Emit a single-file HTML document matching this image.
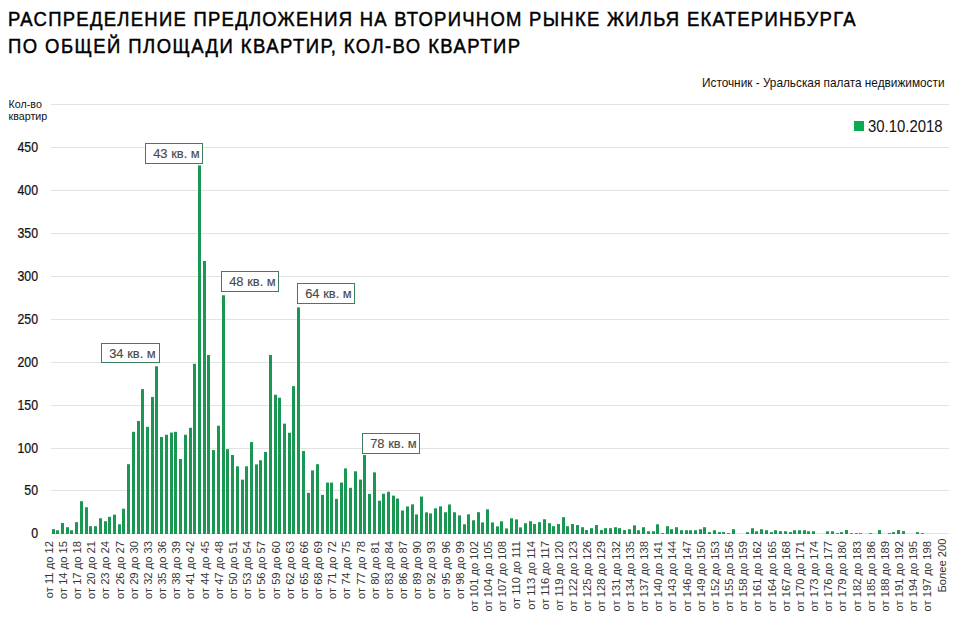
<!DOCTYPE html>
<html><head><meta charset="utf-8"><style>
html,body{margin:0;padding:0;background:#fff;width:955px;height:625px;overflow:hidden}
svg{display:block}
text{font-family:"Liberation Sans",sans-serif}
</style></head><body>
<svg width="955" height="625" viewBox="0 0 955 625">
<rect x="0" y="0" width="955" height="625" fill="#fff"/>

<text transform="translate(8.0 26) scale(0.88 1)" x="0" y="0" font-size="21" fill="#000" textLength="963.07" lengthAdjust="spacing" stroke="#000" stroke-width="0.5">РАСПРЕДЕЛЕНИЕ ПРЕДЛОЖЕНИЯ НА ВТОРИЧНОМ РЫНКЕ ЖИЛЬЯ ЕКАТЕРИНБУРГА</text>
<text transform="translate(8.0 53) scale(0.88 1)" x="0" y="0" font-size="21" fill="#000" textLength="581.82" lengthAdjust="spacing" stroke="#000" stroke-width="0.5">ПО ОБЩЕЙ ПЛОЩАДИ КВАРТИР, КОЛ-ВО КВАРТИР</text>
<text x="702" y="87" font-size="12.8" fill="#111" textLength="242.5" lengthAdjust="spacingAndGlyphs">Источник - Уральская палата недвижимости</text>
<rect x="51" y="104" width="898" height="1" fill="#e3e3e3"/>
<rect x="51" y="147" width="898" height="1" fill="#e3e3e3"/>
<rect x="51" y="190" width="898" height="1" fill="#e3e3e3"/>
<rect x="51" y="233" width="898" height="1" fill="#e3e3e3"/>
<rect x="51" y="276" width="898" height="1" fill="#e3e3e3"/>
<rect x="51" y="319" width="898" height="1" fill="#e3e3e3"/>
<rect x="51" y="362" width="898" height="1" fill="#e3e3e3"/>
<rect x="51" y="405" width="898" height="1" fill="#e3e3e3"/>
<rect x="51" y="448" width="898" height="1" fill="#e3e3e3"/>
<rect x="51" y="490" width="898" height="1" fill="#e3e3e3"/>
<rect x="51" y="533" width="898" height="1" fill="#e3e3e3"/>
<text transform="translate(38 538) scale(0.85 1)" x="0" y="0" font-size="14.5" fill="#111" stroke="#111" stroke-width="0.25" text-anchor="end">0</text>
<text transform="translate(38 495) scale(0.85 1)" x="0" y="0" font-size="14.5" fill="#111" stroke="#111" stroke-width="0.25" text-anchor="end">50</text>
<text transform="translate(38 453) scale(0.85 1)" x="0" y="0" font-size="14.5" fill="#111" stroke="#111" stroke-width="0.25" text-anchor="end">100</text>
<text transform="translate(38 410) scale(0.85 1)" x="0" y="0" font-size="14.5" fill="#111" stroke="#111" stroke-width="0.25" text-anchor="end">150</text>
<text transform="translate(38 367) scale(0.85 1)" x="0" y="0" font-size="14.5" fill="#111" stroke="#111" stroke-width="0.25" text-anchor="end">200</text>
<text transform="translate(38 324) scale(0.85 1)" x="0" y="0" font-size="14.5" fill="#111" stroke="#111" stroke-width="0.25" text-anchor="end">250</text>
<text transform="translate(38 281) scale(0.85 1)" x="0" y="0" font-size="14.5" fill="#111" stroke="#111" stroke-width="0.25" text-anchor="end">300</text>
<text transform="translate(38 238) scale(0.85 1)" x="0" y="0" font-size="14.5" fill="#111" stroke="#111" stroke-width="0.25" text-anchor="end">350</text>
<text transform="translate(38 195) scale(0.85 1)" x="0" y="0" font-size="14.5" fill="#111" stroke="#111" stroke-width="0.25" text-anchor="end">400</text>
<text transform="translate(38 152) scale(0.85 1)" x="0" y="0" font-size="14.5" fill="#111" stroke="#111" stroke-width="0.25" text-anchor="end">450</text>
<text x="8.6" y="108" font-size="10.7" fill="#111">Кол-во</text>
<text x="8.6" y="120" font-size="10.7" fill="#111">квартир</text>
<rect x="854" y="121" width="10" height="10" fill="#0aaa50"/>
<text x="868" y="132" font-size="16" fill="#111" textLength="74.5" lengthAdjust="spacingAndGlyphs">30.10.2018</text>
<rect x="52" y="529.11" width="3" height="4.89" fill="#1a9853"/>
<rect x="56" y="530.31" width="3" height="3.69" fill="#1a9853"/>
<rect x="61" y="523.01" width="3" height="10.99" fill="#1a9853"/>
<rect x="66" y="527.22" width="3" height="6.78" fill="#1a9853"/>
<rect x="70" y="530.31" width="3" height="3.69" fill="#1a9853"/>
<rect x="75" y="522.15" width="3" height="11.85" fill="#1a9853"/>
<rect x="80" y="501.20" width="3" height="32.80" fill="#1a9853"/>
<rect x="85" y="507.29" width="3" height="26.71" fill="#1a9853"/>
<rect x="89" y="526.19" width="3" height="7.81" fill="#1a9853"/>
<rect x="94" y="526.19" width="3" height="7.81" fill="#1a9853"/>
<rect x="99" y="518.29" width="3" height="15.71" fill="#1a9853"/>
<rect x="104" y="521.21" width="3" height="12.79" fill="#1a9853"/>
<rect x="108" y="516.83" width="3" height="17.17" fill="#1a9853"/>
<rect x="113" y="514.68" width="3" height="19.32" fill="#1a9853"/>
<rect x="118" y="524.30" width="3" height="9.70" fill="#1a9853"/>
<rect x="122" y="508.67" width="3" height="25.33" fill="#1a9853"/>
<rect x="127" y="464.19" width="3" height="69.81" fill="#1a9853"/>
<rect x="132" y="431.81" width="3" height="102.19" fill="#1a9853"/>
<rect x="137" y="421.00" width="3" height="113.00" fill="#1a9853"/>
<rect x="141" y="389.14" width="3" height="144.86" fill="#1a9853"/>
<rect x="146" y="426.83" width="3" height="107.17" fill="#1a9853"/>
<rect x="151" y="396.95" width="3" height="137.05" fill="#1a9853"/>
<rect x="155" y="366.30" width="3" height="167.70" fill="#1a9853"/>
<rect x="160" y="436.97" width="3" height="97.03" fill="#1a9853"/>
<rect x="165" y="434.73" width="3" height="99.27" fill="#1a9853"/>
<rect x="170" y="432.59" width="3" height="101.41" fill="#1a9853"/>
<rect x="174" y="431.81" width="3" height="102.19" fill="#1a9853"/>
<rect x="179" y="458.95" width="3" height="75.05" fill="#1a9853"/>
<rect x="184" y="434.73" width="3" height="99.27" fill="#1a9853"/>
<rect x="189" y="427.78" width="3" height="106.22" fill="#1a9853"/>
<rect x="193" y="363.81" width="3" height="170.19" fill="#1a9853"/>
<rect x="198" y="165.36" width="3" height="368.64" fill="#1a9853"/>
<rect x="203" y="261.02" width="3" height="272.98" fill="#1a9853"/>
<rect x="207" y="354.96" width="3" height="179.04" fill="#1a9853"/>
<rect x="212" y="450.11" width="3" height="83.89" fill="#1a9853"/>
<rect x="217" y="425.72" width="3" height="108.28" fill="#1a9853"/>
<rect x="222" y="295.28" width="3" height="238.72" fill="#1a9853"/>
<rect x="226" y="449.16" width="3" height="84.84" fill="#1a9853"/>
<rect x="231" y="455.00" width="3" height="79.00" fill="#1a9853"/>
<rect x="236" y="466.33" width="3" height="67.67" fill="#1a9853"/>
<rect x="241" y="479.64" width="3" height="54.36" fill="#1a9853"/>
<rect x="245" y="466.33" width="3" height="67.67" fill="#1a9853"/>
<rect x="250" y="442.03" width="3" height="91.97" fill="#1a9853"/>
<rect x="255" y="464.36" width="3" height="69.64" fill="#1a9853"/>
<rect x="259" y="460.24" width="3" height="73.76" fill="#1a9853"/>
<rect x="264" y="451.99" width="3" height="82.01" fill="#1a9853"/>
<rect x="269" y="354.96" width="3" height="179.04" fill="#1a9853"/>
<rect x="274" y="394.72" width="3" height="139.28" fill="#1a9853"/>
<rect x="278" y="397.72" width="3" height="136.28" fill="#1a9853"/>
<rect x="283" y="423.66" width="3" height="110.34" fill="#1a9853"/>
<rect x="288" y="432.76" width="3" height="101.24" fill="#1a9853"/>
<rect x="292" y="386.13" width="3" height="147.87" fill="#1a9853"/>
<rect x="297" y="307.39" width="3" height="226.61" fill="#1a9853"/>
<rect x="302" y="451.05" width="3" height="82.95" fill="#1a9853"/>
<rect x="307" y="492.87" width="3" height="41.13" fill="#1a9853"/>
<rect x="311" y="470.37" width="3" height="63.63" fill="#1a9853"/>
<rect x="316" y="464.19" width="3" height="69.81" fill="#1a9853"/>
<rect x="321" y="494.84" width="3" height="39.16" fill="#1a9853"/>
<rect x="326" y="482.56" width="3" height="51.44" fill="#1a9853"/>
<rect x="330" y="482.56" width="3" height="51.44" fill="#1a9853"/>
<rect x="335" y="498.88" width="3" height="35.12" fill="#1a9853"/>
<rect x="340" y="482.56" width="3" height="51.44" fill="#1a9853"/>
<rect x="344" y="468.40" width="3" height="65.60" fill="#1a9853"/>
<rect x="349" y="487.80" width="3" height="46.20" fill="#1a9853"/>
<rect x="354" y="471.31" width="3" height="62.69" fill="#1a9853"/>
<rect x="359" y="479.56" width="3" height="54.44" fill="#1a9853"/>
<rect x="363" y="455.09" width="3" height="78.91" fill="#1a9853"/>
<rect x="368" y="493.90" width="3" height="40.10" fill="#1a9853"/>
<rect x="373" y="472.35" width="3" height="61.65" fill="#1a9853"/>
<rect x="378" y="500.68" width="3" height="33.32" fill="#1a9853"/>
<rect x="382" y="493.73" width="3" height="40.27" fill="#1a9853"/>
<rect x="387" y="491.75" width="3" height="42.25" fill="#1a9853"/>
<rect x="392" y="495.62" width="3" height="38.38" fill="#1a9853"/>
<rect x="396" y="498.54" width="3" height="35.46" fill="#1a9853"/>
<rect x="401" y="510.47" width="3" height="23.53" fill="#1a9853"/>
<rect x="406" y="506.44" width="3" height="27.56" fill="#1a9853"/>
<rect x="411" y="504.37" width="3" height="29.63" fill="#1a9853"/>
<rect x="415" y="514.42" width="3" height="19.58" fill="#1a9853"/>
<rect x="420" y="496.56" width="3" height="37.44" fill="#1a9853"/>
<rect x="425" y="512.36" width="3" height="21.64" fill="#1a9853"/>
<rect x="429" y="513.39" width="3" height="20.61" fill="#1a9853"/>
<rect x="434" y="508.32" width="3" height="25.68" fill="#1a9853"/>
<rect x="439" y="506.35" width="3" height="27.65" fill="#1a9853"/>
<rect x="444" y="512.27" width="3" height="21.73" fill="#1a9853"/>
<rect x="448" y="504.46" width="3" height="29.54" fill="#1a9853"/>
<rect x="453" y="512.27" width="3" height="21.73" fill="#1a9853"/>
<rect x="458" y="515.37" width="3" height="18.63" fill="#1a9853"/>
<rect x="463" y="524.30" width="3" height="9.70" fill="#1a9853"/>
<rect x="467" y="514.34" width="3" height="19.66" fill="#1a9853"/>
<rect x="472" y="520.26" width="3" height="13.74" fill="#1a9853"/>
<rect x="477" y="512.19" width="3" height="21.81" fill="#1a9853"/>
<rect x="481" y="522.41" width="3" height="11.59" fill="#1a9853"/>
<rect x="486" y="509.27" width="3" height="24.73" fill="#1a9853"/>
<rect x="491" y="522.41" width="3" height="11.59" fill="#1a9853"/>
<rect x="496" y="526.36" width="3" height="7.64" fill="#1a9853"/>
<rect x="500" y="521.29" width="3" height="12.71" fill="#1a9853"/>
<rect x="505" y="528.42" width="3" height="5.58" fill="#1a9853"/>
<rect x="510" y="518.29" width="3" height="15.71" fill="#1a9853"/>
<rect x="515" y="519.40" width="3" height="14.60" fill="#1a9853"/>
<rect x="519" y="527.39" width="3" height="6.61" fill="#1a9853"/>
<rect x="524" y="523.18" width="3" height="10.82" fill="#1a9853"/>
<rect x="529" y="521.21" width="3" height="12.79" fill="#1a9853"/>
<rect x="533" y="524.04" width="3" height="9.96" fill="#1a9853"/>
<rect x="538" y="522.15" width="3" height="11.85" fill="#1a9853"/>
<rect x="543" y="519.23" width="3" height="14.77" fill="#1a9853"/>
<rect x="548" y="523.18" width="3" height="10.82" fill="#1a9853"/>
<rect x="552" y="526.19" width="3" height="7.81" fill="#1a9853"/>
<rect x="557" y="524.04" width="3" height="9.96" fill="#1a9853"/>
<rect x="562" y="517.17" width="3" height="16.83" fill="#1a9853"/>
<rect x="566" y="526.19" width="3" height="7.81" fill="#1a9853"/>
<rect x="571" y="524.04" width="3" height="9.96" fill="#1a9853"/>
<rect x="576" y="525.07" width="3" height="8.93" fill="#1a9853"/>
<rect x="581" y="527.22" width="3" height="6.78" fill="#1a9853"/>
<rect x="585" y="530.05" width="3" height="3.95" fill="#1a9853"/>
<rect x="590" y="528.16" width="3" height="5.84" fill="#1a9853"/>
<rect x="595" y="525.07" width="3" height="8.93" fill="#1a9853"/>
<rect x="600" y="530.05" width="3" height="3.95" fill="#1a9853"/>
<rect x="604" y="528.16" width="3" height="5.84" fill="#1a9853"/>
<rect x="609" y="528.16" width="3" height="5.84" fill="#1a9853"/>
<rect x="614" y="527.22" width="3" height="6.78" fill="#1a9853"/>
<rect x="618" y="528.16" width="3" height="5.84" fill="#1a9853"/>
<rect x="623" y="530.05" width="3" height="3.95" fill="#1a9853"/>
<rect x="628" y="529.19" width="3" height="4.81" fill="#1a9853"/>
<rect x="633" y="525.33" width="3" height="8.67" fill="#1a9853"/>
<rect x="637" y="530.22" width="3" height="3.78" fill="#1a9853"/>
<rect x="642" y="527.22" width="3" height="6.78" fill="#1a9853"/>
<rect x="647" y="531.25" width="3" height="2.75" fill="#1a9853"/>
<rect x="652" y="531.25" width="3" height="2.75" fill="#1a9853"/>
<rect x="656" y="524.30" width="3" height="9.70" fill="#1a9853"/>
<rect x="661" y="533.14" width="3" height="0.86" fill="#1a9853"/>
<rect x="666" y="526.19" width="3" height="7.81" fill="#1a9853"/>
<rect x="670" y="529.19" width="3" height="4.81" fill="#1a9853"/>
<rect x="675" y="527.22" width="3" height="6.78" fill="#1a9853"/>
<rect x="680" y="530.22" width="3" height="3.78" fill="#1a9853"/>
<rect x="685" y="530.22" width="3" height="3.78" fill="#1a9853"/>
<rect x="689" y="530.22" width="3" height="3.78" fill="#1a9853"/>
<rect x="694" y="530.22" width="3" height="3.78" fill="#1a9853"/>
<rect x="699" y="529.19" width="3" height="4.81" fill="#1a9853"/>
<rect x="703" y="527.22" width="3" height="6.78" fill="#1a9853"/>
<rect x="708" y="532.11" width="3" height="1.89" fill="#1a9853"/>
<rect x="713" y="530.22" width="3" height="3.78" fill="#1a9853"/>
<rect x="718" y="532.11" width="3" height="1.89" fill="#1a9853"/>
<rect x="722" y="532.11" width="3" height="1.89" fill="#1a9853"/>
<rect x="727" y="533.14" width="3" height="0.86" fill="#1a9853"/>
<rect x="732" y="529.19" width="3" height="4.81" fill="#1a9853"/>
<rect x="746" y="532.11" width="3" height="1.89" fill="#1a9853"/>
<rect x="751" y="528.25" width="3" height="5.75" fill="#1a9853"/>
<rect x="755" y="531.25" width="3" height="2.75" fill="#1a9853"/>
<rect x="760" y="529.19" width="3" height="4.81" fill="#1a9853"/>
<rect x="765" y="530.22" width="3" height="3.78" fill="#1a9853"/>
<rect x="770" y="532.11" width="3" height="1.89" fill="#1a9853"/>
<rect x="774" y="530.22" width="3" height="3.78" fill="#1a9853"/>
<rect x="779" y="531.25" width="3" height="2.75" fill="#1a9853"/>
<rect x="784" y="531.25" width="3" height="2.75" fill="#1a9853"/>
<rect x="789" y="532.11" width="3" height="1.89" fill="#1a9853"/>
<rect x="793" y="530.22" width="3" height="3.78" fill="#1a9853"/>
<rect x="798" y="530.22" width="3" height="3.78" fill="#1a9853"/>
<rect x="803" y="530.22" width="3" height="3.78" fill="#1a9853"/>
<rect x="807" y="531.25" width="3" height="2.75" fill="#1a9853"/>
<rect x="812" y="531.25" width="3" height="2.75" fill="#1a9853"/>
<rect x="826" y="531.25" width="3" height="2.75" fill="#1a9853"/>
<rect x="831" y="531.25" width="3" height="2.75" fill="#1a9853"/>
<rect x="836" y="533.14" width="3" height="0.86" fill="#1a9853"/>
<rect x="840" y="532.11" width="3" height="1.89" fill="#1a9853"/>
<rect x="845" y="530.05" width="3" height="3.95" fill="#1a9853"/>
<rect x="850" y="533.14" width="3" height="0.86" fill="#1a9853"/>
<rect x="855" y="533.14" width="3" height="0.86" fill="#1a9853"/>
<rect x="859" y="533.14" width="3" height="0.86" fill="#1a9853"/>
<rect x="869" y="533.14" width="3" height="0.86" fill="#1a9853"/>
<rect x="878" y="530.05" width="3" height="3.95" fill="#1a9853"/>
<rect x="888" y="533.14" width="3" height="0.86" fill="#1a9853"/>
<rect x="892" y="532.11" width="3" height="1.89" fill="#1a9853"/>
<rect x="897" y="530.05" width="3" height="3.95" fill="#1a9853"/>
<rect x="902" y="531.08" width="3" height="2.92" fill="#1a9853"/>
<rect x="916" y="532.11" width="3" height="1.89" fill="#1a9853"/>
<rect x="921" y="533.14" width="3" height="0.86" fill="#1a9853"/>
<text transform="translate(52.76 541) rotate(-90)" x="0" y="0" font-size="11.2" fill="#333" text-anchor="end">от 11 до 12</text>
<text transform="translate(66.93 541) rotate(-90)" x="0" y="0" font-size="11.2" fill="#333" text-anchor="end">от 14 до 15</text>
<text transform="translate(81.11 541) rotate(-90)" x="0" y="0" font-size="11.2" fill="#333" text-anchor="end">от 17 до 18</text>
<text transform="translate(95.28 541) rotate(-90)" x="0" y="0" font-size="11.2" fill="#333" text-anchor="end">от 20 до 21</text>
<text transform="translate(109.45 541) rotate(-90)" x="0" y="0" font-size="11.2" fill="#333" text-anchor="end">от 23 до 24</text>
<text transform="translate(123.63 541) rotate(-90)" x="0" y="0" font-size="11.2" fill="#333" text-anchor="end">от 26 до 27</text>
<text transform="translate(137.80 541) rotate(-90)" x="0" y="0" font-size="11.2" fill="#333" text-anchor="end">от 29 до 30</text>
<text transform="translate(151.97 541) rotate(-90)" x="0" y="0" font-size="11.2" fill="#333" text-anchor="end">от 32 до 33</text>
<text transform="translate(166.14 541) rotate(-90)" x="0" y="0" font-size="11.2" fill="#333" text-anchor="end">от 35 до 36</text>
<text transform="translate(180.32 541) rotate(-90)" x="0" y="0" font-size="11.2" fill="#333" text-anchor="end">от 38 до 39</text>
<text transform="translate(194.49 541) rotate(-90)" x="0" y="0" font-size="11.2" fill="#333" text-anchor="end">от 41 до 42</text>
<text transform="translate(208.66 541) rotate(-90)" x="0" y="0" font-size="11.2" fill="#333" text-anchor="end">от 44 до 45</text>
<text transform="translate(222.83 541) rotate(-90)" x="0" y="0" font-size="11.2" fill="#333" text-anchor="end">от 47 до 48</text>
<text transform="translate(237.01 541) rotate(-90)" x="0" y="0" font-size="11.2" fill="#333" text-anchor="end">от 50 до 51</text>
<text transform="translate(251.18 541) rotate(-90)" x="0" y="0" font-size="11.2" fill="#333" text-anchor="end">от 53 до 54</text>
<text transform="translate(265.35 541) rotate(-90)" x="0" y="0" font-size="11.2" fill="#333" text-anchor="end">от 56 до 57</text>
<text transform="translate(279.52 541) rotate(-90)" x="0" y="0" font-size="11.2" fill="#333" text-anchor="end">от 59 до 60</text>
<text transform="translate(293.70 541) rotate(-90)" x="0" y="0" font-size="11.2" fill="#333" text-anchor="end">от 62 до 63</text>
<text transform="translate(307.87 541) rotate(-90)" x="0" y="0" font-size="11.2" fill="#333" text-anchor="end">от 65 до 66</text>
<text transform="translate(322.04 541) rotate(-90)" x="0" y="0" font-size="11.2" fill="#333" text-anchor="end">от 68 до 69</text>
<text transform="translate(336.21 541) rotate(-90)" x="0" y="0" font-size="11.2" fill="#333" text-anchor="end">от 71 до 72</text>
<text transform="translate(350.39 541) rotate(-90)" x="0" y="0" font-size="11.2" fill="#333" text-anchor="end">от 74 до 75</text>
<text transform="translate(364.56 541) rotate(-90)" x="0" y="0" font-size="11.2" fill="#333" text-anchor="end">от 77 до 78</text>
<text transform="translate(378.73 541) rotate(-90)" x="0" y="0" font-size="11.2" fill="#333" text-anchor="end">от 80 до 81</text>
<text transform="translate(392.90 541) rotate(-90)" x="0" y="0" font-size="11.2" fill="#333" text-anchor="end">от 83 до 84</text>
<text transform="translate(407.08 541) rotate(-90)" x="0" y="0" font-size="11.2" fill="#333" text-anchor="end">от 86 до 87</text>
<text transform="translate(421.25 541) rotate(-90)" x="0" y="0" font-size="11.2" fill="#333" text-anchor="end">от 89 до 90</text>
<text transform="translate(435.42 541) rotate(-90)" x="0" y="0" font-size="11.2" fill="#333" text-anchor="end">от 92 до 93</text>
<text transform="translate(449.59 541) rotate(-90)" x="0" y="0" font-size="11.2" fill="#333" text-anchor="end">от 95 до 96</text>
<text transform="translate(463.77 541) rotate(-90)" x="0" y="0" font-size="11.2" fill="#333" text-anchor="end">от 98 до 99</text>
<text transform="translate(477.94 541) rotate(-90)" x="0" y="0" font-size="11.2" fill="#333" text-anchor="end">от 101 до 102</text>
<text transform="translate(492.11 541) rotate(-90)" x="0" y="0" font-size="11.2" fill="#333" text-anchor="end">от 104 до 105</text>
<text transform="translate(506.29 541) rotate(-90)" x="0" y="0" font-size="11.2" fill="#333" text-anchor="end">от 107 до 108</text>
<text transform="translate(520.46 541) rotate(-90)" x="0" y="0" font-size="11.2" fill="#333" text-anchor="end">от 110 до 111</text>
<text transform="translate(534.63 541) rotate(-90)" x="0" y="0" font-size="11.2" fill="#333" text-anchor="end">от 113 до 114</text>
<text transform="translate(548.80 541) rotate(-90)" x="0" y="0" font-size="11.2" fill="#333" text-anchor="end">от 116 до 117</text>
<text transform="translate(562.98 541) rotate(-90)" x="0" y="0" font-size="11.2" fill="#333" text-anchor="end">от 119 до 120</text>
<text transform="translate(577.15 541) rotate(-90)" x="0" y="0" font-size="11.2" fill="#333" text-anchor="end">от 122 до 123</text>
<text transform="translate(591.32 541) rotate(-90)" x="0" y="0" font-size="11.2" fill="#333" text-anchor="end">от 125 до 126</text>
<text transform="translate(605.49 541) rotate(-90)" x="0" y="0" font-size="11.2" fill="#333" text-anchor="end">от 128 до 129</text>
<text transform="translate(619.67 541) rotate(-90)" x="0" y="0" font-size="11.2" fill="#333" text-anchor="end">от 131 до 132</text>
<text transform="translate(633.84 541) rotate(-90)" x="0" y="0" font-size="11.2" fill="#333" text-anchor="end">от 134 до 135</text>
<text transform="translate(648.01 541) rotate(-90)" x="0" y="0" font-size="11.2" fill="#333" text-anchor="end">от 137 до 138</text>
<text transform="translate(662.18 541) rotate(-90)" x="0" y="0" font-size="11.2" fill="#333" text-anchor="end">от 140 до 141</text>
<text transform="translate(676.36 541) rotate(-90)" x="0" y="0" font-size="11.2" fill="#333" text-anchor="end">от 143 до 144</text>
<text transform="translate(690.53 541) rotate(-90)" x="0" y="0" font-size="11.2" fill="#333" text-anchor="end">от 146 до 147</text>
<text transform="translate(704.70 541) rotate(-90)" x="0" y="0" font-size="11.2" fill="#333" text-anchor="end">от 149 до 150</text>
<text transform="translate(718.87 541) rotate(-90)" x="0" y="0" font-size="11.2" fill="#333" text-anchor="end">от 152 до 153</text>
<text transform="translate(733.05 541) rotate(-90)" x="0" y="0" font-size="11.2" fill="#333" text-anchor="end">от 155 до 156</text>
<text transform="translate(747.22 541) rotate(-90)" x="0" y="0" font-size="11.2" fill="#333" text-anchor="end">от 158 до 159</text>
<text transform="translate(761.39 541) rotate(-90)" x="0" y="0" font-size="11.2" fill="#333" text-anchor="end">от 161 до 162</text>
<text transform="translate(775.56 541) rotate(-90)" x="0" y="0" font-size="11.2" fill="#333" text-anchor="end">от 164 до 165</text>
<text transform="translate(789.74 541) rotate(-90)" x="0" y="0" font-size="11.2" fill="#333" text-anchor="end">от 167 до 168</text>
<text transform="translate(803.91 541) rotate(-90)" x="0" y="0" font-size="11.2" fill="#333" text-anchor="end">от 170 до 171</text>
<text transform="translate(818.08 541) rotate(-90)" x="0" y="0" font-size="11.2" fill="#333" text-anchor="end">от 173 до 174</text>
<text transform="translate(832.26 541) rotate(-90)" x="0" y="0" font-size="11.2" fill="#333" text-anchor="end">от 176 до 177</text>
<text transform="translate(846.43 541) rotate(-90)" x="0" y="0" font-size="11.2" fill="#333" text-anchor="end">от 179 до 180</text>
<text transform="translate(860.60 541) rotate(-90)" x="0" y="0" font-size="11.2" fill="#333" text-anchor="end">от 182 до 183</text>
<text transform="translate(874.77 541) rotate(-90)" x="0" y="0" font-size="11.2" fill="#333" text-anchor="end">от 185 до 186</text>
<text transform="translate(888.95 541) rotate(-90)" x="0" y="0" font-size="11.2" fill="#333" text-anchor="end">от 188 до 189</text>
<text transform="translate(903.12 541) rotate(-90)" x="0" y="0" font-size="11.2" fill="#333" text-anchor="end">от 191 до 192</text>
<text transform="translate(917.29 541) rotate(-90)" x="0" y="0" font-size="11.2" fill="#333" text-anchor="end">от 194 до 195</text>
<text transform="translate(931.46 541) rotate(-90)" x="0" y="0" font-size="11.2" fill="#333" text-anchor="end">от 197 до 198</text>
<text transform="translate(945.64 538.5) rotate(-90)" x="0" y="0" font-size="11.2" fill="#333" text-anchor="end">Более 200</text>
<rect x="101.5" y="343.5" width="58" height="19" fill="#fff" stroke="#3b7f5c" stroke-width="1"/>
<text x="109.2" y="358.0" font-size="13.5" fill="#4a4a4a" stroke="#4a4a4a" stroke-width="0.15" textLength="46.5" lengthAdjust="spacingAndGlyphs">34 кв. м</text>
<rect x="145.5" y="143.5" width="57" height="20" fill="#fff" stroke="#3b7f5c" stroke-width="1"/>
<text x="153.2" y="158.0" font-size="13.5" fill="#4a4a4a" stroke="#4a4a4a" stroke-width="0.15" textLength="46.5" lengthAdjust="spacingAndGlyphs">43 кв. м</text>
<rect x="221.5" y="271.5" width="57" height="20" fill="#fff" stroke="#3b7f5c" stroke-width="1"/>
<text x="229.2" y="286.0" font-size="13.5" fill="#4a4a4a" stroke="#4a4a4a" stroke-width="0.15" textLength="46.5" lengthAdjust="spacingAndGlyphs">48 кв. м</text>
<rect x="297.5" y="283.5" width="57" height="20" fill="#fff" stroke="#3b7f5c" stroke-width="1"/>
<text x="305.2" y="298.0" font-size="13.5" fill="#4a4a4a" stroke="#4a4a4a" stroke-width="0.15" textLength="46.5" lengthAdjust="spacingAndGlyphs">64 кв. м</text>
<rect x="362.5" y="433.5" width="57" height="20" fill="#fff" stroke="#3b7f5c" stroke-width="1"/>
<text x="370.2" y="448.0" font-size="13.5" fill="#4a4a4a" stroke="#4a4a4a" stroke-width="0.15" textLength="46.5" lengthAdjust="spacingAndGlyphs">78 кв. м</text>
</svg></body></html>
